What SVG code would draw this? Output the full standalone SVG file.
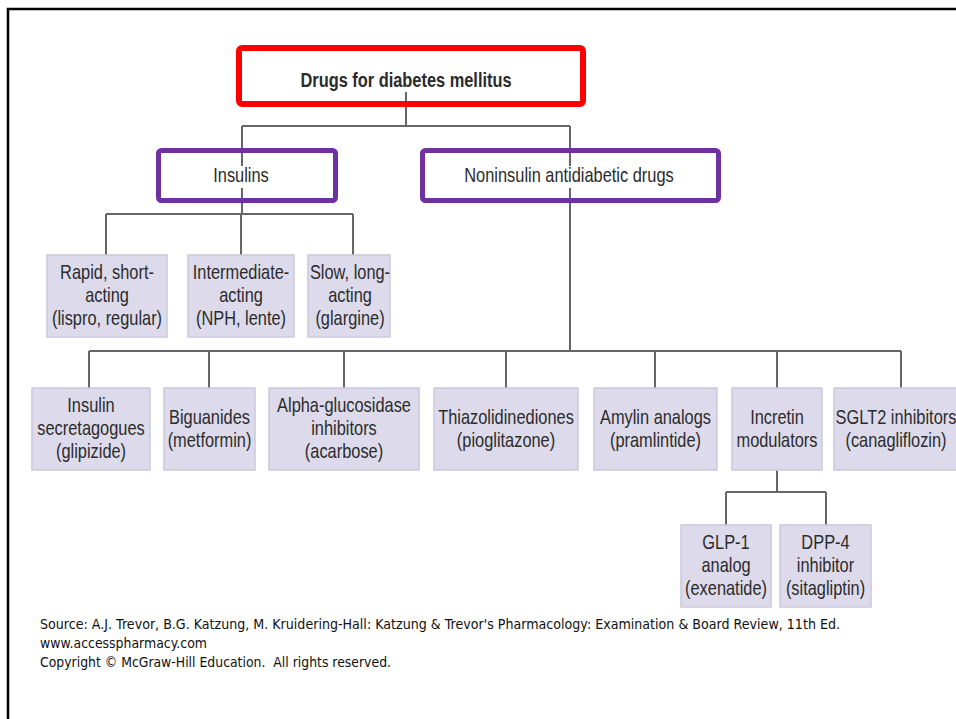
<svg xmlns="http://www.w3.org/2000/svg" width="956" height="719" viewBox="0 0 956 719">
  <style>
    .lbl { font-family: "Liberation Sans", Arial, sans-serif; font-size: 20px; fill: #2b2b2b; text-anchor: middle; }
    .title { font-weight: bold; }
    .box { fill: #dddbeb; stroke: #cac8dc; stroke-width: 1.5; }
    .root { fill: none; stroke: #ff0000; stroke-width: 6; }
    .cat { fill: none; stroke: #7030a0; stroke-width: 5; }
    .wire { fill: none; stroke: #666; stroke-width: 2; }
    .foot { font-family: "DejaVu Sans", Verdana, sans-serif; font-size: 13.5px; fill: #111; }
  </style>

  <rect width="956" height="719" fill="#fff"/>
  <!-- page frame -->
  <path d="M8 719 V9 H956" fill="none" stroke="#000" stroke-width="2.5"/>

  <!-- connectors -->
  <g id="connectors" class="wire">
    <path d="M406 92 V126 M242 126 H570 M242 126 V166 M570 126 V166"/>
    <path d="M242 188 V214 M106 214 H353 M106 214 V255 M241 214 V255 M353 214 V255"/>
    <path d="M570 188 V351 M89 351 H901 M89 351 V388 M209 351 V388 M344 351 V388 M506 351 V388 M655 351 V388 M777 351 V388 M901 351 V388"/>
    <path d="M777 470 V492 M726 492 H826 M726 492 V525 M826 492 V525"/>
  </g>

  <g id="n-root">
    <rect class="root" x="239" y="48" width="344" height="56" rx="3"/>
    <text class="lbl title" transform="translate(406 0) scale(.82 1)" x="0" y="87">Drugs for diabetes mellitus</text>
  </g>

  <g id="n-insulins">
    <rect class="cat" x="158.5" y="150.5" width="177" height="50" rx="3"/>
    <text class="lbl" transform="translate(241 0) scale(.82 1)" x="0" y="182">Insulins</text>
  </g>

  <g id="n-noninsulin">
    <rect class="cat" x="422.5" y="150.5" width="296" height="50" rx="3"/>
    <text class="lbl" transform="translate(569 0) scale(.82 1)" x="0" y="182">Noninsulin antidiabetic drugs</text>
  </g>

  <!-- insulin preparations -->
  <g id="n-rapid">
    <rect class="box" x="47" y="255" width="120" height="82"/>
    <text class="lbl" transform="translate(107 0) scale(.82 1)"><tspan x="0" y="279">Rapid, short-</tspan><tspan x="0" y="302">acting</tspan><tspan x="0" y="325">(lispro, regular)</tspan></text>
  </g>
  <g id="n-intermediate">
    <rect class="box" x="188" y="255" width="106" height="82"/>
    <text class="lbl" transform="translate(241 0) scale(.82 1)"><tspan x="0" y="279">Intermediate-</tspan><tspan x="0" y="302">acting</tspan><tspan x="0" y="325">(NPH, lente)</tspan></text>
  </g>
  <g id="n-slow">
    <rect class="box" x="308" y="255" width="82" height="82"/>
    <text class="lbl" transform="translate(350 0) scale(.82 1)"><tspan x="0" y="279">Slow, long-</tspan><tspan x="0" y="302">acting</tspan><tspan x="0" y="325">(glargine)</tspan></text>
  </g>

  <!-- noninsulin classes -->
  <g id="n-secretagogues">
    <rect class="box" x="32" y="388" width="118" height="82"/>
    <text class="lbl" transform="translate(91 0) scale(.82 1)"><tspan x="0" y="412">Insulin</tspan><tspan x="0" y="435">secretagogues</tspan><tspan x="0" y="458">(glipizide)</tspan></text>
  </g>
  <g id="n-biguanides">
    <rect class="box" x="164" y="388" width="91" height="82"/>
    <text class="lbl" transform="translate(209.5 0) scale(.82 1)"><tspan x="0" y="424">Biguanides</tspan><tspan x="0" y="447">(metformin)</tspan></text>
  </g>
  <g id="n-alpha">
    <rect class="box" x="269" y="388" width="150" height="82"/>
    <text class="lbl" transform="translate(344 0) scale(.82 1)"><tspan x="0" y="412">Alpha-glucosidase</tspan><tspan x="0" y="435">inhibitors</tspan><tspan x="0" y="458">(acarbose)</tspan></text>
  </g>
  <g id="n-tzd">
    <rect class="box" x="434" y="388" width="144" height="82"/>
    <text class="lbl" transform="translate(506 0) scale(.82 1)"><tspan x="0" y="424">Thiazolidinediones</tspan><tspan x="0" y="447">(pioglitazone)</tspan></text>
  </g>
  <g id="n-amylin">
    <rect class="box" x="594" y="388" width="123" height="82"/>
    <text class="lbl" transform="translate(655.5 0) scale(.82 1)"><tspan x="0" y="424">Amylin analogs</tspan><tspan x="0" y="447">(pramlintide)</tspan></text>
  </g>
  <g id="n-incretin">
    <rect class="box" x="732" y="388" width="90" height="82"/>
    <text class="lbl" transform="translate(777 0) scale(.82 1)"><tspan x="0" y="424">Incretin</tspan><tspan x="0" y="447">modulators</tspan></text>
  </g>
  <g id="n-sglt2">
    <rect class="box" x="834" y="388" width="130" height="82"/>
    <text class="lbl" transform="translate(896 0) scale(.82 1)"><tspan x="0" y="424">SGLT2 inhibitors</tspan><tspan x="0" y="447">(canagliflozin)</tspan></text>
  </g>

  <!-- incretin subclasses -->
  <g id="n-glp1">
    <rect class="box" x="681" y="525" width="90" height="82"/>
    <text class="lbl" transform="translate(726 0) scale(.82 1)"><tspan x="0" y="549">GLP-1</tspan><tspan x="0" y="572">analog</tspan><tspan x="0" y="595">(exenatide)</tspan></text>
  </g>
  <g id="n-dpp4">
    <rect class="box" x="780" y="525" width="91" height="82"/>
    <text class="lbl" transform="translate(825.5 0) scale(.82 1)"><tspan x="0" y="549">DPP-4</tspan><tspan x="0" y="572">inhibitor</tspan><tspan x="0" y="595">(sitagliptin)</tspan></text>
  </g>

  <!-- credit lines -->
  <g id="credits" class="foot">
    <text x="40" y="629" textLength="800" lengthAdjust="spacingAndGlyphs">Source: A.J. Trevor, B.G. Katzung, M. Kruidering-Hall: Katzung &amp; Trevor's Pharmacology: Examination &amp; Board Review, 11th Ed.</text>
    <text x="40" y="648" textLength="167" lengthAdjust="spacingAndGlyphs">www.accesspharmacy.com</text>
    <text x="40" y="667" textLength="351" lengthAdjust="spacingAndGlyphs">Copyright © McGraw-Hill Education.&#160; All rights reserved.</text>
  </g>
</svg>
